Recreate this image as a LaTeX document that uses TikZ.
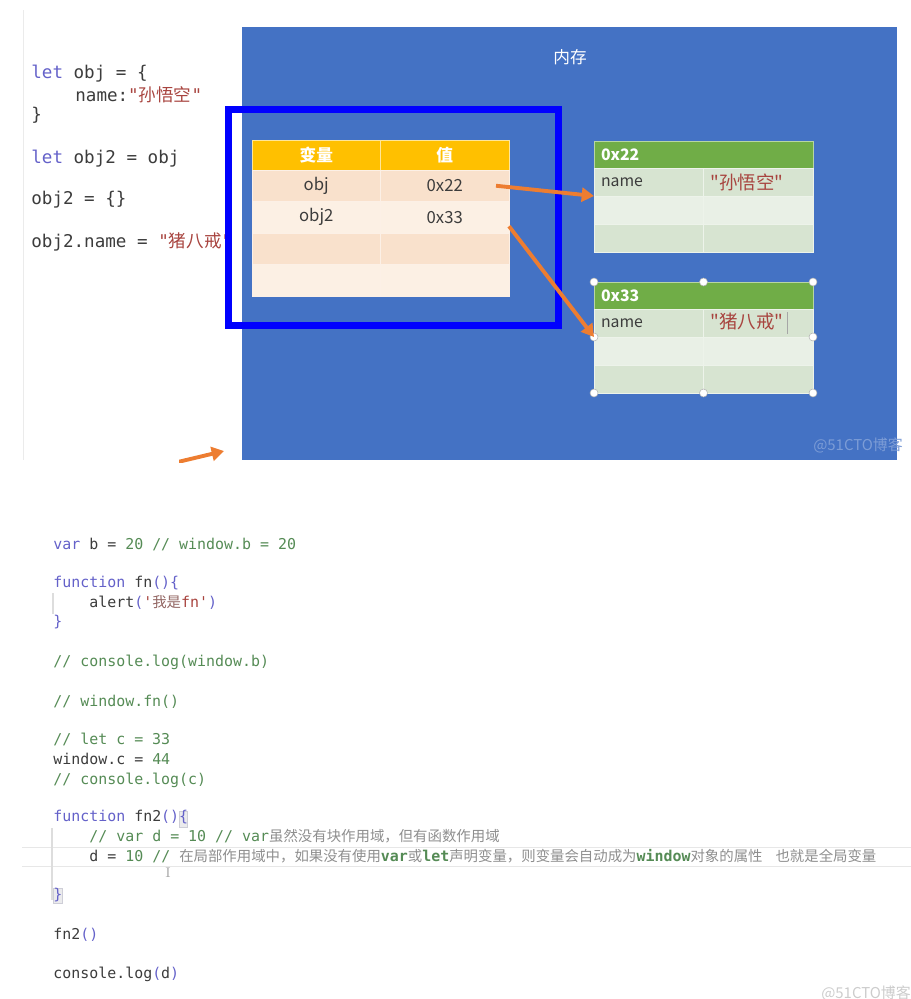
\documentclass[tikz,border=0pt]{standalone}
\usepackage{fontspec}
\setmonofont{DejaVu Sans Mono}
\newfontfamily\cjk{Noto Sans CJK SC}
\usepackage{xcolor}
\usepackage{tikz}
\usetikzlibrary{arrows.meta, positioning}

\newlength\pxu
\setlength\pxu{0.02cm}

\definecolor{panelblue}{HTML}{4472C4}
\definecolor{frameblue}{HTML}{0000FF}
\definecolor{hdrgold}{HTML}{FFC000}
\definecolor{rowpeach}{HTML}{F9E1CC}
\definecolor{rowcream}{HTML}{FCF0E4}
\definecolor{hdrgreen}{HTML}{70AD47}
\definecolor{rowsage}{HTML}{D7E4D1}
\definecolor{rowmint}{HTML}{E9F0E6}
\definecolor{arroworange}{HTML}{ED7D31}
\definecolor{kwpurple}{HTML}{6461C9}
\definecolor{codegray}{HTML}{3C3C3C}
\definecolor{strred}{HTML}{A8443F}
\definecolor{cmtgreen}{HTML}{558B55}
\definecolor{cjkgray}{HTML}{8E8E8E}
\definecolor{guidegray}{HTML}{DDDDDD}

\newcommand{\jkw}[1]{\textcolor{kwpurple}{#1}}
\newcommand{\jcm}[1]{\textcolor{cmtgreen}{#1}}
\newcommand{\jcb}[1]{\textbf{\textcolor{cmtgreen}{#1}}}
\newcommand{\jst}[1]{\textcolor{strred}{#1}}
\newcommand{\jzh}[2][cjkgray]{{\cjk\fontsize{8.2pt}{10pt}\selectfont\textcolor{#1}{#2}}}

\begin{document}
\begin{tikzpicture}[
    x=0.02cm, y=-0.02cm,
    code/.style={anchor=base west, inner sep=0pt, font=\ttfamily\fontsize{10}{12}\selectfont, text=codegray},
    jscode/.style={anchor=base west, inner sep=0pt, font=\ttfamily\fontsize{8.5}{10}\selectfont, text=codegray},
    tcell/.style={inner sep=0pt, outer sep=0pt, minimum width=128.5\pxu, minimum height=31.5\pxu, draw=white!50!rowpeach, line width=0.4pt, font=\cjk\fontsize{9.5}{11}\selectfont, text=codegray},
    thead/.style={tcell, fill=hdrgold, minimum height=30\pxu, draw=white!60!hdrgold, text=white, font=\cjk\bfseries\fontsize{9.5}{11}\selectfont},
    gcell/.style={inner xsep=7\pxu, inner ysep=0pt, outer sep=0pt, text width=95.5\pxu, align=left, minimum height=28\pxu, draw=white!55!rowsage, line width=0.4pt, font=\cjk\fontsize{9}{11}\selectfont, text=codegray},
    ghead/.style={inner xsep=7\pxu, inner ysep=0pt, outer sep=0pt, text width=205\pxu, align=left, minimum height=27\pxu, fill=hdrgreen, draw=white!50!hdrgreen, line width=0.4pt, text=white, font=\cjk\bfseries\fontsize{9}{11}\selectfont},
    arr/.style={-{Triangle[length=7pt, width=8pt]}, line width=2.2pt, arroworange},
    handle/.style={fill=white, draw=gray!60, line width=0.3pt},
    guide/.style={guidegray, line width=0.6pt},
]
\useasboundingbox (0,0) rectangle (911,999);

% top: code on the left
\draw[guidegray!60, line width=0.4pt] (23,10) -- (23,460);
\node[code] (c1) at (31,79) {\jkw{let} obj = \{};
\node[code] (c2) at (75,102) {name:\jst{"}{\cjk\textcolor{strred}{孙悟空}}\jst{"}};
\node[code] (c3) at (31,121) {\}};
\node[code] (c4) at (31,164) {\jkw{let} obj2 = obj};
\node[code] (c5) at (31,205) {obj2 = \{\}};
\node[code] (c6) at (31,248) {obj2.name = \jst{"}{\cjk\textcolor{strred}{猪八戒}}\jst{"}};

% memory panel
\fill[panelblue] (242,27) rectangle (897,460);
\node[font=\cjk\fontsize{9.5}{11}\selectfont, text=white] (memtitle) at (570,57) {内存};

% stack table
\node[thead, anchor=north west] (varhd) at (252,140) {变量};
\node[thead, right=0pt of varhd] (valhd) {值};
\node[tcell, fill=rowpeach, below=0pt of varhd] (var1) {obj};
\node[tcell, fill=rowpeach, below=0pt of valhd] (val1) {0x22};
\node[tcell, fill=rowcream, below=0pt of var1] (var2) {obj2};
\node[tcell, fill=rowcream, below=0pt of val1] (val2) {0x33};
\node[tcell, fill=rowpeach, below=0pt of var2] (var3) {};
\node[tcell, fill=rowpeach, below=0pt of val2] (val3) {};
\node[tcell, fill=rowcream, below=0pt of var3] (var4) {};
\node[tcell, fill=rowcream, below=0pt of val3] (val4) {};

\draw[frameblue, line width=7\pxu] (228,110) rectangle (558,326);

% heap object 0x22
\node[ghead, anchor=north west] (h22) at (594,141) {0x22};
\node[gcell, fill=rowsage, anchor=north west] (k22a) at (h22.south west) {name};
\node[gcell, fill=rowsage, right=0pt of k22a, font=\cjk\fontsize{10.5}{12}\selectfont, text=strred] (v22a) {"孙悟空"};
\node[gcell, fill=rowmint, below=0pt of k22a] (k22b) {};
\node[gcell, fill=rowmint, below=0pt of v22a] (v22b) {};
\node[gcell, fill=rowsage, below=0pt of k22b] (k22c) {};
\node[gcell, fill=rowsage, below=0pt of v22b] (v22c) {};

% heap object 0x33
\node[ghead, anchor=north west] (h33) at (594,282) {0x33};
\node[gcell, fill=rowsage, anchor=north west] (k33a) at (h33.south west) {name};
\node[gcell, fill=rowsage, right=0pt of k33a, font=\cjk\fontsize{10.5}{12}\selectfont, text=strred] (v33a) {"猪八戒"\hspace{2pt}\textcolor{gray!70}{\rule[-0.25em]{0.5pt}{1.15em}}};
\node[gcell, fill=rowmint, below=0pt of k33a] (k33b) {};
\node[gcell, fill=rowmint, below=0pt of v33a] (v33b) {};
\node[gcell, fill=rowsage, below=0pt of k33b] (k33c) {};
\node[gcell, fill=rowsage, below=0pt of v33b] (v33c) {};

\filldraw[handle] (h33.north west) circle (4\pxu) (h33.north) circle (4\pxu)
    (h33.north east) circle (4\pxu) (k33a.south west) circle (4\pxu)
    (v33a.south east) circle (4\pxu) (k33c.south west) circle (4\pxu)
    (k33c.south east) circle (4\pxu) (v33c.south east) circle (4\pxu);

\draw[arr] ([xshift=-13\pxu]val1.east) -- (k22a.south west);
\draw[arr] ([yshift=-9\pxu]val2.east) -- (k33a.south west);

% cut-off arrow under the panel
\coordinate (cut-a) at (140,471);
\coordinate (cut-b) at (224,451);
\begin{scope}
  \clip (179,440) rectangle (241,462);
  \draw[arr] (cut-a) -- (cut-b);
\end{scope}

\node[font=\cjk\fontsize{8.5}{10}\selectfont, text=panelblue!70!white] (wm1) at (858,445) {@51CTO博客};

% bottom: editor screenshot
\draw[guidegray!70, line width=0.5pt] (22,847) -- (911,847) (22,866) -- (911,866);
\filldraw[fill=blue!5!gray!15, draw=blue!10!gray!35, line width=0.3pt] (179,811) rectangle (187,827);
\filldraw[fill=blue!5!gray!15, draw=blue!10!gray!35, line width=0.3pt] (53,888) rectangle (62,903);
\draw[guide] (53,593) -- (53,614);
\draw[guide] (52,828) -- (52,900);

\node[jscode] (b1) at (53,549) {\jkw{var} b = \jcm{20 // window.b = 20}};
\node[jscode] (b2) at (53,587) {\jkw{function} fn\jkw{()\{}};
\node[jscode] (b3) at (89,607) {alert\jkw{(}\jst{\textquotesingle}\jzh[strred!45!gray]{我是}\jst{fn\textquotesingle}\jkw{)}};
\node[jscode] (b4) at (53,626) {\jkw{\}}};
\node[jscode] (b5) at (53,666) {\jcm{// console.log(window.b)}};
\node[jscode] (b6) at (53,706) {\jcm{// window.fn()}};
\node[jscode] (b7) at (53,744) {\jcm{// let c = 33}};
\node[jscode] (b8) at (53,764) {window.c = \jcm{44}};
\node[jscode] (b9) at (53,784) {\jcm{// console.log(c)}};
\node[jscode] (b10) at (53,821) {\jkw{function} fn2\jkw{()\{}};
\node[jscode] (b11) at (89,841) {\jcm{// var d = 10 // var}\jzh{虽然没有块作用域，但有函数作用域}};
\node[jscode] (b12) at (89,861) {d = \jcm{10 //} \jzh{在局部作用域中，如果没有使用}\jcb{var}\jzh{或}\jcb{let}\jzh{声明变量，则变量会自动成为}\jcb{window}\jzh{对象的属性\hspace{0.9em}也就是全局变量}};
\node[text=gray!70, font=\fontsize{8}{8}\selectfont] (caret) at (168,873) {I};
\node[jscode] (b13) at (53,899) {\jkw{\}}};
\node[jscode] (b14) at (53,939) {fn2\jkw{()}};
\node[jscode] (b15) at (53,978) {console.log\jkw{(}d\jkw{)}};

\node[font=\cjk\fontsize{8.5}{10}\selectfont, text=gray!40] (wm2) at (866,993) {@51CTO博客};

\end{tikzpicture}
\end{document}
